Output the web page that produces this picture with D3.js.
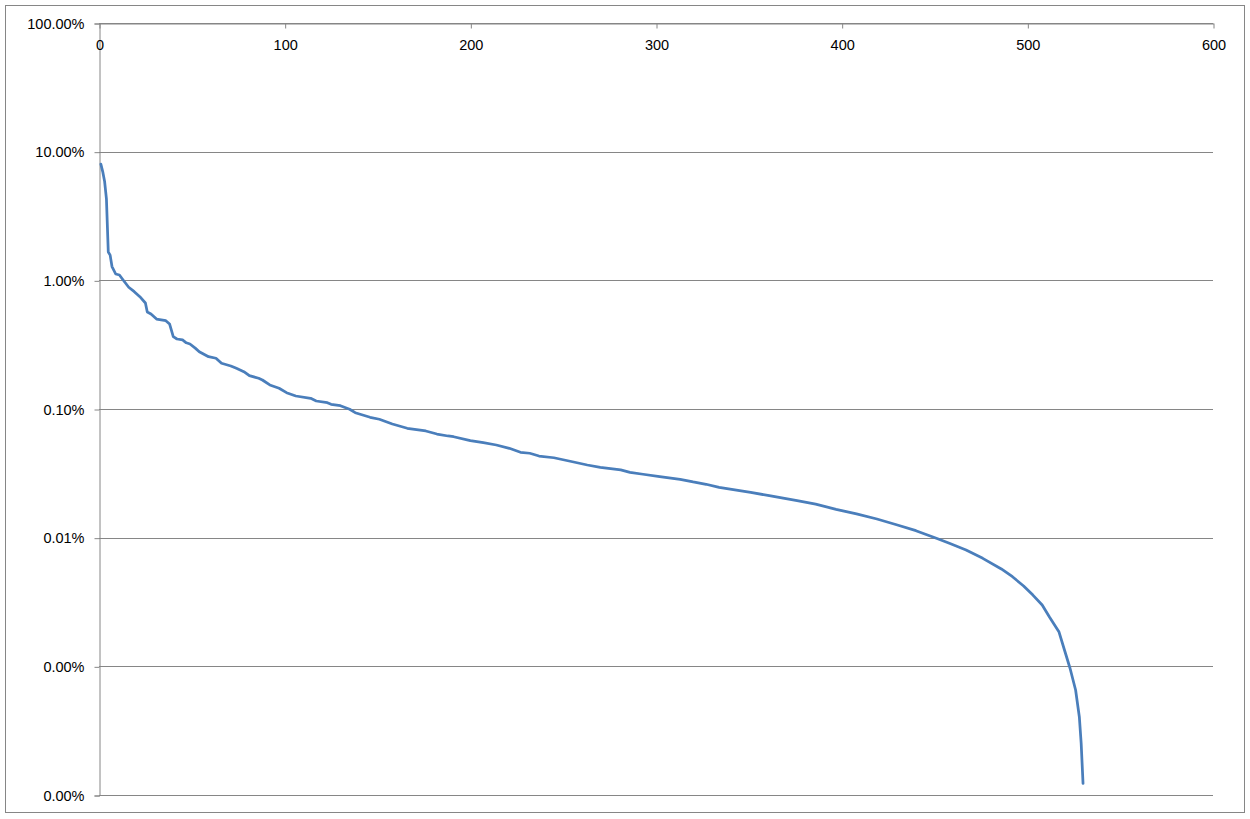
<!DOCTYPE html>
<html>
<head>
<meta charset="utf-8">
<script src="https://cdn.jsdelivr.net/npm/d3@7"></script>
<style>
  html, body { margin: 0; padding: 0; background: #fff; }
  svg { display: block; }
  text { font-family: "Liberation Sans", Arial, sans-serif; font-size: 14.5px; fill: #000; }
</style>
</head>
<body>
<svg id="chart" width="1250" height="819"></svg>
<script>
// ---- data (rank, share in %) ----
const ranks = [1, 2, 3, 4, 5, 6, 7, 9, 11, 13, 16, 19, 22, 25, 26, 28, 31, 36, 38, 40, 42, 45, 47, 49, 52, 54, 59, 63, 66, 71, 74, 78, 81, 86, 88, 92, 97, 101, 106, 114, 117, 123, 125, 130, 135, 138, 146, 151, 158, 166, 176, 182, 188, 191, 200, 207, 214, 221, 227, 232, 237, 245, 255, 263, 270, 281, 286, 293, 302, 313, 320, 327, 334, 345, 351, 361, 376, 386, 397, 408, 419, 430, 440, 451, 458, 467, 476, 486, 492, 498, 503, 508, 512, 517, 520, 523, 526, 528, 529, 530];
const shares = [8.0, 7.0, 5.9, 4.3, 1.66, 1.57, 1.28, 1.12, 1.10, 1.006, 0.883, 0.816, 0.746, 0.667, 0.567, 0.547, 0.50, 0.486, 0.458, 0.365, 0.35, 0.344, 0.327, 0.320, 0.296, 0.279, 0.255, 0.248, 0.2266, 0.216, 0.207, 0.195, 0.1815, 0.1733, 0.168, 0.1537, 0.1449, 0.1339, 0.1262, 0.1211, 0.1154, 0.112, 0.1088, 0.1061, 0.0995, 0.0936, 0.0862, 0.0832, 0.0764, 0.0708, 0.0675, 0.0639, 0.0617, 0.0609, 0.0567, 0.0547, 0.0525, 0.0495, 0.0461, 0.0453, 0.0431, 0.0418, 0.0389, 0.0367, 0.0352, 0.0336, 0.0322, 0.0311, 0.0298, 0.0284, 0.0271, 0.0260, 0.0246, 0.0232, 0.0225, 0.0212, 0.0194, 0.0182, 0.0166, 0.0153, 0.01397, 0.01255, 0.01133, 0.00989, 0.00904, 0.00802, 0.00691, 0.00571, 0.00497, 0.00421, 0.00358, 0.0030, 0.00241, 0.00186, 0.00134, 0.000966, 0.000655, 0.000406, 0.000252, 0.000123];
const xTicks = [0, 100, 200, 300, 400, 500, 600];
const yTicks = [100, 10, 1, 0.1, 0.01, 0.001, 0.0001];
const yTickLabels = ["100.00%", "10.00%", "1.00%", "0.10%", "0.01%", "0.00%", "0.00%"];

const svg = d3.select("#chart");
const gridColor = "#868686";
const fontFam = "Liberation Sans, Arial, sans-serif";

// chart border
svg.append("rect")
  .attr("x", 5.5).attr("y", 5.5).attr("width", 1239).attr("height", 807)
  .attr("fill", "none").attr("stroke", gridColor).attr("stroke-width", 1);

const x = d3.scaleLinear().domain([0, 600]).range([99, 1213]);
const y = d3.scaleLog().domain([0.0001, 100]).range([795, 23]);

// horizontal gridlines
svg.append("g").selectAll("line").data(yTicks).join("line")
  .attr("x1", x(0)).attr("x2", x(600))
  .attr("y1", d => Math.round(y(d)) + 0.5).attr("y2", d => Math.round(y(d)) + 0.5)
  .attr("stroke", gridColor).attr("stroke-width", 1);

// y axis
const yAxis = svg.append("g").attr("transform", `translate(${x(0) + 0.5},0.5)`)
  .call(d3.axisLeft(y).tickValues(yTicks).tickFormat((d, i) => yTickLabels[i]).tickSize(5).tickPadding(10));
yAxis.select(".domain").attr("stroke", gridColor);
yAxis.selectAll(".tick line").attr("stroke", gridColor);
yAxis.selectAll(".tick text").attr("font-family", fontFam).attr("font-size", 14.5).attr("fill", "#000");

// x axis at top, ticks pointing into the plot, labels below
const xAxis = svg.append("g").attr("transform", `translate(0.5,${y(100) + 0.5})`)
  .call(d3.axisBottom(x).tickValues(xTicks).tickFormat(d3.format("d")).tickSize(5).tickSizeOuter(0).tickPadding(11));
xAxis.select(".domain").attr("stroke", gridColor);
xAxis.selectAll(".tick line").attr("stroke", gridColor);
xAxis.selectAll(".tick text").attr("font-family", fontFam).attr("font-size", 14.5).attr("fill", "#000");

// data line
const pts = ranks.map((r, i) => [r, shares[i]]);
svg.append("path")
  .datum(pts)
  .attr("fill", "none")
  .attr("stroke", "#4A7EBB")
  .attr("stroke-width", 2.75)
  .attr("stroke-linejoin", "round")
  .attr("stroke-linecap", "round")
  .attr("d", d3.line().x(d => x(d[0])).y(d => y(d[1])));
</script>
</body>
</html>
